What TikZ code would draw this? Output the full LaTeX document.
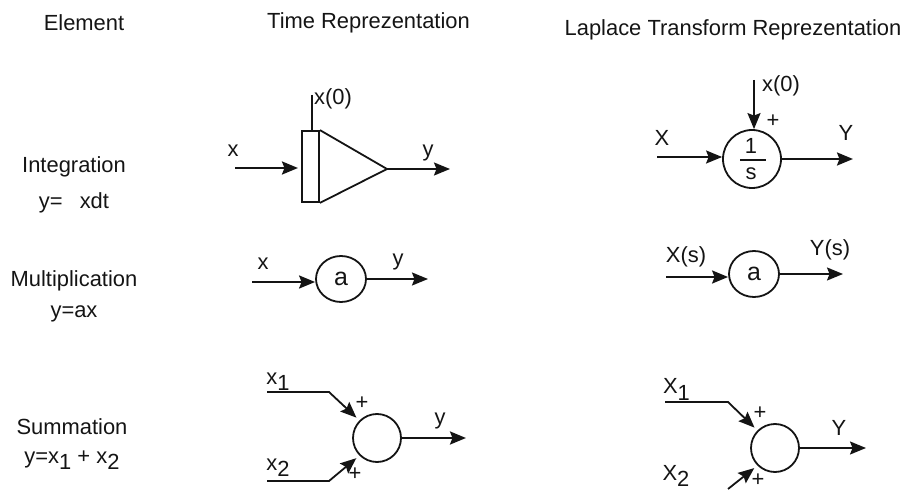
\documentclass[tikz,border=0pt]{standalone}
\usepackage{fontspec}
\setmainfont{Liberation Sans}
\usetikzlibrary{arrows.meta,positioning,calc,shapes.geometric}
\definecolor{figdark}{gray}{0.08}
\newcommand{\lowidx}[1]{\raisebox{-0.55ex}{#1}}
\tikzset{
  txt/.style={inner sep=0pt, align=center, text=figdark, font=\fontsize{22}{26}\selectfont},
  signmark/.style={inner sep=0pt, text=figdark, font=\fontsize{22}{24}\selectfont},
  ringsum/.style={circle, draw=figdark, line width=1.8bp, inner sep=0pt},
  gainblock/.style={ellipse, draw=figdark, line width=1.8bp, inner sep=0pt,
    minimum width=50bp, minimum height=46bp, text=figdark, font=\fontsize{25}{28}\selectfont},
  arrow/.style={-{Stealth[length=16bp,width=13bp,inset=2.5bp]}, line width=1.8bp, draw=figdark},
  heavy/.style={line width=2.4bp},
  wire/.style={line width=1.8bp, draw=figdark}
}
\begin{document}
\begin{tikzpicture}[x=1bp,y=-1bp]
  \useasboundingbox (0,0) rectangle (906,490);

  % Column heads
  \node[txt] (headel) at (84,23) {Element};
  \node[txt] (headtime) at (368.5,23) {Time Reprezentation};
  \node[txt] (headlap) at (733,30) {Laplace Transform Reprezentation};

  % Row names
  \node[txt] (nameint) at (74,167) {Integration};
  \node[txt, below=15bp of nameint] (eqint) {y=\hspace{0.5em} xdt};
  \node[txt] (namemul) at (74,281) {Multiplication};
  \node[txt, below=14bp of namemul] (eqmul) {y=ax};
  \node[txt] (namesum) at (72,427) {Summation};
  \node[txt, below=15bp of namesum] (eqsum) {y=x\lowidx{1} + x\lowidx{2}};

  % Integration, time form
  \node[draw=figdark, line width=1.8bp, minimum width=17bp, minimum height=71bp, inner sep=0pt] (bar) at (310.5,166.5) {};
  \coordinate (apex) at (387,169);
  \draw[wire] (bar.north east) -- (apex) -- (bar.south east);
  \coordinate (ictop) at (312,95);
  \draw[wire] (ictop) -- (ictop |- bar.north);
  \coordinate (tin) at (235,168);
  \coordinate (tout) at (450,169);
  \draw[arrow, heavy] (tin) -- (298,168);
  \draw[arrow] (apex) -- (tout);
  \node[txt] (lblx) at (233,151) {x};
  \node[txt] (lbly) at (428,153) {y};
  \node[txt] (lblic) at (333,99) {x(0)};

  % Integration, Laplace form
  \node[ringsum, minimum size=58bp] (ints) at (752,159) {};
  \coordinate (stop) at (754,80);
  \coordinate (sin) at (657,157);
  \coordinate (sout) at (853,159);
  \draw[arrow] (stop) -- (ints.north -| stop);
  \draw[arrow] (sin) -- (ints.west |- sin);
  \draw[arrow, heavy] (ints.east) -- (sout);
  \node[txt] (one) at (751,146) {1};
  \draw[wire] (740,160) -- (766,160);
  \node[txt] (ess) at (751,174) {s};
  \node[txt] (lblX) at (662,138) {X};
  \node[txt] (lblY) at (846,133) {Y};
  \node[txt] (lblsic) at (781,86) {x(0)};
  \node[signmark] (plusic) at (773,121) {+};

  % Multiplication, time form
  \node[gainblock] (gaint) at (341,279) {a};
  \coordinate (gtin) at (252,282);
  \coordinate (gtout) at (428,279);
  \draw[arrow, heavy] (gtin) -- (gaint.west |- gtin);
  \draw[arrow] (gaint) -- (gtout);
  \node[txt] (lblgx) at (263,264) {x};
  \node[txt] (lblgy) at (398,262) {y};

  % Multiplication, Laplace form
  \node[gainblock] (gains) at (754,274) {a};
  \coordinate (gsin) at (666,277);
  \coordinate (gsout) at (843,274);
  \draw[arrow, heavy] (gsin) -- (gains.west |- gsin);
  \draw[arrow] (gains.east) -- (gsout);
  \node[txt] (lblgX) at (686,257) {X(s)};
  \node[txt] (lblgY) at (830,250) {Y(s)};

  % Summation, time form
  \node[ringsum, minimum size=48bp] (sumt) at (377,438) {};
  \coordinate (aone) at (267,392);
  \coordinate (bone) at (329,392);
  \coordinate (atwo) at (267,481);
  \coordinate (btwo) at (329,481);
  \coordinate (stout) at (466,438);
  \draw[arrow, shorten >=4bp] (aone) -- (bone) -- (sumt.135);
  \draw[arrow, shorten >=4bp] (atwo) -- (btwo) -- (sumt.225);
  \draw[arrow, heavy] (sumt) -- (stout);
  \node[txt] (lblxa) at (278,382) {x\lowidx{1}};
  \node[txt] (lblxb) at (278,468) {x\lowidx{2}};
  \node[txt] (lblsy) at (440,421) {y};
  \node[signmark] (plusa) at (362,403) {+};
  \node[signmark] (plusb) at (355,474) {+};

  % Summation, Laplace form
  \node[ringsum, minimum size=48bp] (sums) at (775,448) {};
  \coordinate (cone) at (665,402);
  \coordinate (done) at (728,402);
  \coordinate (dtwo) at (728,489);
  \coordinate (ssout) at (866,448);
  \draw[arrow, shorten >=4bp] (cone) -- (done) -- (sums.135);
  \draw[arrow, shorten >=4bp] (dtwo) -- (sums.225);
  \draw[arrow] (sums) -- (ssout);
  \node[txt] (lblXa) at (676.5,389.5) {X\lowidx{1}};
  \node[txt] (lblXb) at (676,476) {X\lowidx{2}};
  \node[txt] (lblsY) at (839,428) {Y};
  \node[signmark] (plusc) at (760,413) {+};
  \node[signmark] (plusd) at (758,480) {+};
\end{tikzpicture}
\end{document}
